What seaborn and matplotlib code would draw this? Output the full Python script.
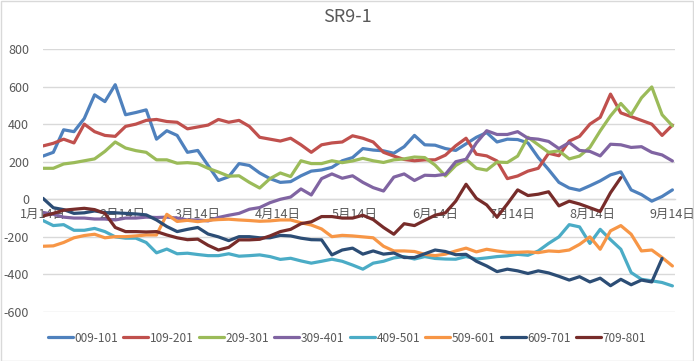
import numpy as np
import pandas as pd
import matplotlib
matplotlib.use("Agg")
import matplotlib.pyplot as plt
import seaborn as sns
from matplotlib.lines import Line2D
from matplotlib.patches import Rectangle

# ---------------- data ----------------
dates = pd.date_range("2016-01-14", "2016-09-14", freq="4D")  # 62 sample dates

s009_101 = [230, 250, 370, 360, 430, 556, 520, 610, 450, 462, 476, 320, 365, 340, 250, 260,
            180, 100, 120, 190, 180, 140, 110, 90, 94, 125, 150, 156, 170, 205, 222, 270,
            262, 258, 245, 280, 340, 290, 288, 270, 260, 295, 330, 355, 305, 320, 318, 300,
            222, 158, 90, 60, 48, 72, 98, 130, 146, 50, 25, -10, 15, 50]
s109_201 = [284, 298, 320, 300, 400, 360, 340, 335, 388, 400, 420, 425, 414, 410, 375, 385,
            395, 425, 410, 420, 388, 330, 320, 310, 325, 290, 250, 290, 300, 305, 338, 325,
            305, 250, 230, 212, 205, 210, 210, 235, 285, 325, 240, 231, 204, 110, 124, 150,
            165, 245, 232, 310, 335, 400, 436, 560, 460, 440, 420, 400, 340, 395]
s209_301 = [165, 165, 188, 195, 205, 215, 255, 305, 273, 259, 250, 210, 210, 192, 195, 190,
            165, 145, 123, 125, 90, 60, 110, 140, 121, 205, 190, 190, 205, 195, 204, 218,
            205, 196, 210, 215, 225, 222, 182, 124, 180, 213, 165, 155, 198, 196, 230, 330,
            290, 250, 258, 215, 230, 276, 364, 444, 510, 450, 540, 598, 450, 391]
s309_401 = [-70, -80, -95, -100, -100, -105, -105, -110, -100, -100, -95, -97, -95, -100, -110, -110,
            -115, -97, -85, -75, -53, -44, -18, 0, 12, 55, 23, 110, 135, 112, 125, 90,
            62, 44, 118, 135, 100, 128, 126, 133, 200, 213, 300, 365, 345, 345, 360, 325,
            320, 308, 270, 302, 260, 255, 231, 293, 290, 276, 280, 250, 236, 204]
s409_501 = [-113, -140, -135, -165, -165, -155, -172, -200, -207, -207, -230, -285, -265, -290, -287, -294,
            -300, -300, -290, -303, -300, -296, -305, -320, -314, -328, -340, -330, -319, -330, -350, -372,
            -340, -330, -312, -305, -318, -305, -315, -318, -319, -305, -318, -312, -305, -301, -293, -298,
            -275, -235, -200, -135, -147, -235, -160, -215, -266, -390, -426, -434, -443, -461]
s509_601 = [-250, -248, -230, -205, -193, -186, -205, -199, -199, -195, -190, -190, -80, -118, -112, -119,
            -112, -108, -106, -110, -113, -117, -115, -110, -110, -125, -137, -158, -199, -192, -195, -200,
            -205, -250, -275, -275, -278, -293, -300, -292, -275, -260, -280, -266, -275, -282, -282, -280,
            -284, -275, -278, -270, -240, -200, -266, -168, -140, -186, -275, -270, -310, -355]
s609_701 = [5, -45, -55, -75, -72, -62, -71, -72, -75, -78, -83, -110, -145, -172, -160, -150,
            -185, -200, -220, -199, -199, -205, -205, -192, -195, -207, -215, -216, -296, -270, -260, -292,
            -275, -292, -286, -310, -310, -290, -270, -278, -295, -293, -330, -355, -385, -372, -381, -395,
            -381, -392, -410, -430, -412, -440, -420, -460, -426, -455, -430, -440, -315, np.nan]
s709_801 = [-89, -75, -58, -53, -48, -55, -75, -150, -172, -172, -174, -172, -190, -205, -215, -212,
            -245, -270, -256, -216, -216, -213, -195, -172, -160, -130, -120, -92, -92, -100, -100, -85,
            -108, -150, -186, -130, -140, -112, -85, -72, -10, 80, 5, -30, -95, -25, 50, 20,
            27, 40, -35, -10, -25, -45, -65, 35, 115, np.nan, np.nan, np.nan, np.nan, np.nan]

series_names = ["009-101", "109-201", "209-301", "309-401", "409-501", "509-601", "609-701", "709-801"]
series_values = [s009_101, s109_201, s209_301, s309_401, s409_501, s509_601, s609_701, s709_801]
colors = ["#4F81BD", "#C0504D", "#9BBB59", "#8064A2", "#4BACC6", "#F79646", "#2C4D75", "#772C2A"]

tick_dates = pd.to_datetime([f"2016-{m:02d}-14" for m in range(1, 10)])
tick_labels = [f"{m}月14日" for m in range(1, 10)]
y_ticks = [-600, -400, -200, 0, 200, 400, 600, 800]

# ---------------- build frame ----------------
frames = []
for name, vals in zip(series_names, series_values):
    frames.append(pd.DataFrame({"date": dates, "value": vals, "series": name}))
df = pd.concat(frames, ignore_index=True).dropna()

# ---------------- plot ----------------
sns.set_theme(style="white")
plt.rcParams["font.family"] = ["Noto Sans CJK SC", "DejaVu Sans"]

fig = plt.figure(figsize=(6.94, 3.61), dpi=100)
W, H = 694, 361
ax = fig.add_axes([43 / W, 1 - 312 / H, (675 - 43) / W, (312 - 49) / H])

sns.lineplot(data=df, x="date", y="value", hue="series", hue_order=series_names,
             palette=dict(zip(series_names, colors)), linewidth=2.3, ax=ax,
             legend=False, sort=True, estimator=None)

ax.set_ylim(-600, 800)
ax.set_xlim(pd.Timestamp("2016-01-14"), pd.Timestamp("2016-09-15"))
ax.set_yticks(y_ticks)
ax.set_yticklabels([str(v) for v in y_ticks])
ax.set_xticks(tick_dates)
ax.set_xticklabels(tick_labels)
ax.set_xlabel("")
ax.set_ylabel("")

ax.grid(axis="y", color="#D9D9D9", linewidth=1.0)
ax.grid(axis="x", visible=False)
ax.set_axisbelow(True)

for s in ["left", "right", "top"]:
    ax.spines[s].set_visible(False)
ax.spines["bottom"].set_position(("data", 0))
ax.spines["bottom"].set_color("#D9D9D9")
ax.spines["bottom"].set_linewidth(1.0)
ax.spines["bottom"].set_zorder(0.5)

ax.tick_params(axis="y", length=0, pad=10, labelsize=9, labelcolor="#595959")
ax.tick_params(axis="x", length=4, width=1, color="#D9D9D9", direction="out", pad=2,
               labelsize=9, labelcolor="#595959")

fig.text(0.5, 1 - 17 / H, "SR9-1", ha="center", va="center", fontsize=13, color="#595959")

handles = [Line2D([0], [0], color=c, linewidth=2.3) for c in colors]
leg = fig.legend(handles, series_names, loc="center", bbox_to_anchor=(0.5, 1 - 338 / H),
                 ncol=8, frameon=False, fontsize=8.5, handlelength=2.1, handletextpad=0.15,
                 columnspacing=0.45)
for t in leg.get_texts():
    t.set_color("#595959")

fig.patches.append(Rectangle((0.5 / W, 0.5 / H), 1 - 1.5 / W, 1 - 1.5 / H, transform=fig.transFigure,
                             fill=False, edgecolor="#D9D9D9", linewidth=1.0))

fig.savefig("out.png", dpi=100, facecolor="white")
